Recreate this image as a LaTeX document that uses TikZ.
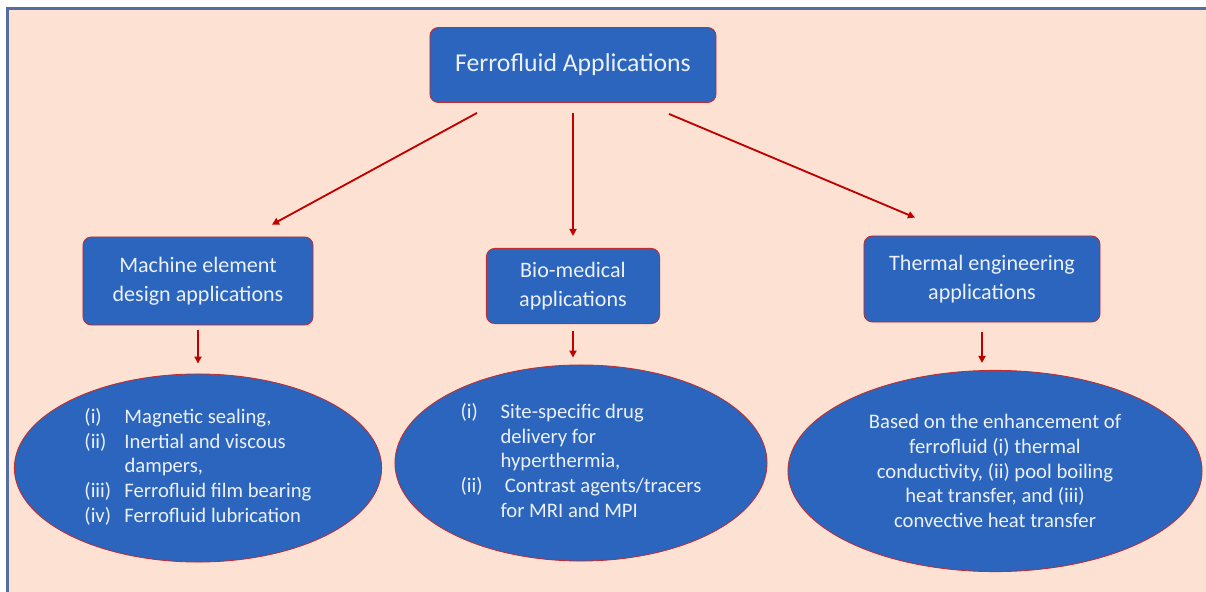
\documentclass[tikz,border=0pt]{standalone}
\usepackage{fontspec}
\setmainfont{Carlito}
\usetikzlibrary{shapes.geometric,arrows.meta,calc}

\definecolor{peach}{RGB}{253,226,211}
\definecolor{boxblue}{RGB}{43,101,189}
\definecolor{edgered}{RGB}{190,45,50}
\definecolor{arrowred}{RGB}{192,0,0}
\definecolor{framegray}{RGB}{84,110,160}
\definecolor{textwhite}{RGB}{236,240,248}

\tikzset{
  appbox/.style={rectangle, rounded corners=6pt, fill=boxblue, draw=edgered,
    line width=0.6pt, text=textwhite, align=center, inner sep=0pt,
    font=\fontsize{15.7}{20.6}\selectfont},
  appell/.style={ellipse, fill=boxblue, draw=edgered, line width=0.6pt,
    text=textwhite, inner sep=0pt, font=\fontsize{14.7}{17.6}\selectfont},
  arr/.style={draw=arrowred, line width=1.3pt, -{Triangle[length=5pt,width=5pt]}}
}

\begin{document}
\begin{tikzpicture}[x=0.025cm,y=-0.025cm]
        \useasboundingbox (0,0) rectangle (1206,592);
        \fill[peach] (7.5,8.5) rectangle (1206,592);
        \draw[framegray, line width=1.5pt] (7.5,592) -- (7.5,8.5) -- (1206,8.5);

        % top
        \node[appbox, minimum width=7.15cm, minimum height=1.875cm,
          font=\fontsize{18.3}{22}\selectfont] (top) at (573,65) {Ferrofluid Applications};

        % middle row
        \node[appbox, minimum width=5.75cm, minimum height=2.2cm] (mach) at (198,281)
          {Machine element\\design applications};
        \node[appbox, minimum width=4.33cm, minimum height=1.88cm] (bio) at (573,286)
          {Bio-medical\\applications};
        \node[appbox, minimum width=5.9cm, minimum height=2.15cm] (therm) at (982,279)
          {Thermal engineering\\applications};

        % bottom row
        \node[appell, minimum width=9.18cm, minimum height=4.7cm] (mel) at (198,468)
          {\begin{tabular}{@{}p{1.0cm}@{}l@{}}
            (i) & Magnetic sealing,\\
            (ii) & Inertial and viscous\\
                 & dampers,\\
            (iii) & Ferrofluid film bearing\\
            (iv) & Ferrofluid lubrication
          \end{tabular}};
        \node[appell, minimum width=9.3cm, minimum height=4.9cm] (bel) at (581,463)
          {\begin{tabular}{@{}p{1.0cm}@{}l@{}}
            (i) & Site-specific drug\\
                & delivery for\\
                & hyperthermia,\\
            (ii) & \hspace{3pt}Contrast agents/tracers\\
                 & for MRI and MPI
          \end{tabular}};
        \node[appell, minimum width=10.35cm, minimum height=5.03cm, align=center] (tel) at (995,471)
          {Based on the enhancement of\\ferrofluid (i) thermal\\conductivity, (ii) pool boiling\\heat transfer, and (iii)\\convective heat transfer};

        % arrows
        \draw[arr] ([shift={(-96,10)}]top.south) -- ([shift={(74,-12)}]mach.north);
        \draw[arr] ([shift={(0,10)}]top.south) -- ([shift={(0,-12)}]bio.north);
        \draw[arr] ([shift={(96,11)}]top.south) -- ([shift={(-67,-18)}]therm.north);

        \draw[arr] ([shift={(0,5)}]mach.south) -- ($(mach.south |- mel.north)+(0,-10)$);
        \draw[arr] ([shift={(0,7)}]bio.south) -- ($(bio.south |- bel.north)+(0,-7)$);
        \draw[arr] ([shift={(0,10)}]therm.south) -- ($(therm.south |- tel.north)+(0,-7)$);
\end{tikzpicture}
\end{document}
